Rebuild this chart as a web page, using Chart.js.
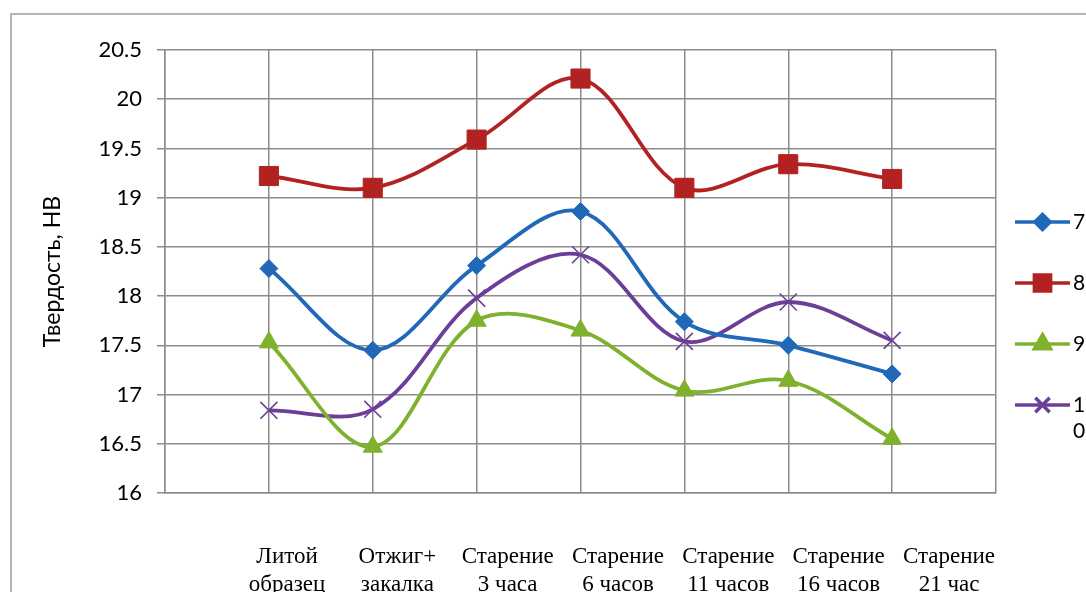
<!DOCTYPE html>
<html>
<head>
<meta charset="utf-8">
<script src="https://cdn.jsdelivr.net/npm/chart.js@4"></script>
<style>
html,body{margin:0;padding:0;background:#fff;overflow:hidden}
#wrap{position:relative;width:1086px;height:592px}
#frame{position:absolute;left:10px;top:13px;right:-20px;bottom:-20px;border:2px solid #b4b4b4;pointer-events:none}
</style>
</head>
<body>
<div id="wrap">
<canvas id="chart" width="1086" height="592"></canvas>
<div id="frame"></div>
</div>
<script>
// стадии обработки (подписи оси X)
const stages = [
["Литой","образец"],
["Отжиг+","закалка"],
["Старение","3 часа"],
["Старение","6 часов"],
["Старение","11 часов"],
["Старение","16 часов"],
["Старение","21 час"]
]

const seriesNames = ["7","8","9","10"]

// твердость, HB
const s7 = [18.28,17.45,18.31,18.86,17.74,17.50,17.21]
const s8 = [19.22,19.10,19.59,20.21,19.10,19.34,19.19]
const s9 = [17.53,16.47,17.75,17.65,17.04,17.14,16.55]
const s10 = [16.84,16.85,17.98,18.42,17.54,17.94,17.55]

const yMin = 16
const yMax = 20.5
const yStep = 0.5

const colors = ['#2169b8','#b32222','#80b12e','#6b3f98']
const styles = ['rectRot','rect','triangle','crossRot']
const radii = [9,13.5,11,12]

function toPoints(arr){
return arr.map((v,i)=>({x:i+1,y:v}))
}

const gridColor = '#8c8c8c'

// легенда справа, текст переносится если не влезает
const sideLegend = {
id:'sideLegend',
afterDraw(chart){
const ctx = chart.ctx
const area = chart.chartArea
const x0 = area.right + 19
const x1 = area.right + 74
const tx = area.right + 77
const maxW = chart.width - tx
ctx.save()
ctx.font = '21px Lato'
ctx.textBaseline = 'middle'
chart.data.datasets.forEach((ds,i)=>{
const y = 222 + i*61
ctx.strokeStyle = ds.borderColor
ctx.lineWidth = 3.5
ctx.beginPath()
ctx.moveTo(x0,y)
ctx.lineTo(x1,y)
ctx.stroke()
ctx.fillStyle = ds.borderColor
Chart.helpers.drawPoint(ctx,{
pointStyle:ds.pointStyle,
radius:ds.pointRadius*0.85,
borderWidth:ds.pointBorderWidth
},(x0+x1)/2,y)
ctx.fillStyle = '#000'
// перенос по символам
let lines = []
let cur = ''
for(const ch of ds.label){
if(cur && ctx.measureText(cur+ch).width > maxW){
lines.push(cur)
cur = ch
}else{
cur += ch
}
}
lines.push(cur)
lines.forEach((ln,k)=>{
ctx.fillText(ln,tx,y + k*26)
})
})
ctx.restore()
}
}

new Chart(document.getElementById('chart'),{
type:'line',
data:{
datasets:[s7,s8,s9,s10].map((d,i)=>({
label:seriesNames[i],
data:toPoints(d),
borderColor:colors[i],
backgroundColor:colors[i],
pointBackgroundColor:colors[i],
pointBorderColor:colors[i],
pointStyle:styles[i],
pointRadius:radii[i],
pointBorderWidth:styles[i]==='crossRot'?1.6:1,
borderWidth:3.8,
tension:0.35,
fill:false
}))
},
plugins:[sideLegend],
options:{
responsive:false,
animation:false,
devicePixelRatio:1,
layout:{padding:{left:0,right:90,top:50,bottom:0}},
plugins:{
legend:{display:false},
tooltip:{enabled:false}
},
scales:{
x:{
type:'linear',
position:'bottom',
min:0,
max:8,
ticks:{display:false,stepSize:1},
grid:{color:gridColor,lineWidth:1.5,drawTicks:false},
border:{color:gridColor,width:1.5},
afterFit(s){ s.height = 0 }
},
x2:{
type:'linear',
position:'bottom',
min:-0.106,
max:7.426,
grid:{display:false},
border:{display:false},
afterBuildTicks(s){
s.ticks = stages.map((st,i)=>({value:i+1}))
},
ticks:{
autoSkip:false,
maxRotation:0,
padding:42,
color:'#000',
font:{family:'"Liberation Serif", "Times New Roman", serif',size:23,lineHeight:1.22},
callback:(v)=>stages[v-1]
},
afterFit(s){ s.height = 99 }
},
y:{
min:yMin,
max:yMax,
ticks:{
stepSize:yStep,
padding:15,
color:'#000',
font:{family:'Lato',size:22},
callback:(v)=>String(v)
},
grid:{color:gridColor,lineWidth:1.5,tickLength:8},
border:{color:gridColor,width:1.5},
title:{
display:true,
text:'Твердость, НВ',
color:'#000',
font:{family:'Lato',size:23},
padding:{top:39,bottom:0}
},
afterFit(s){ s.width = 165 }
}
}
}
})
</script>
</body>
</html>
